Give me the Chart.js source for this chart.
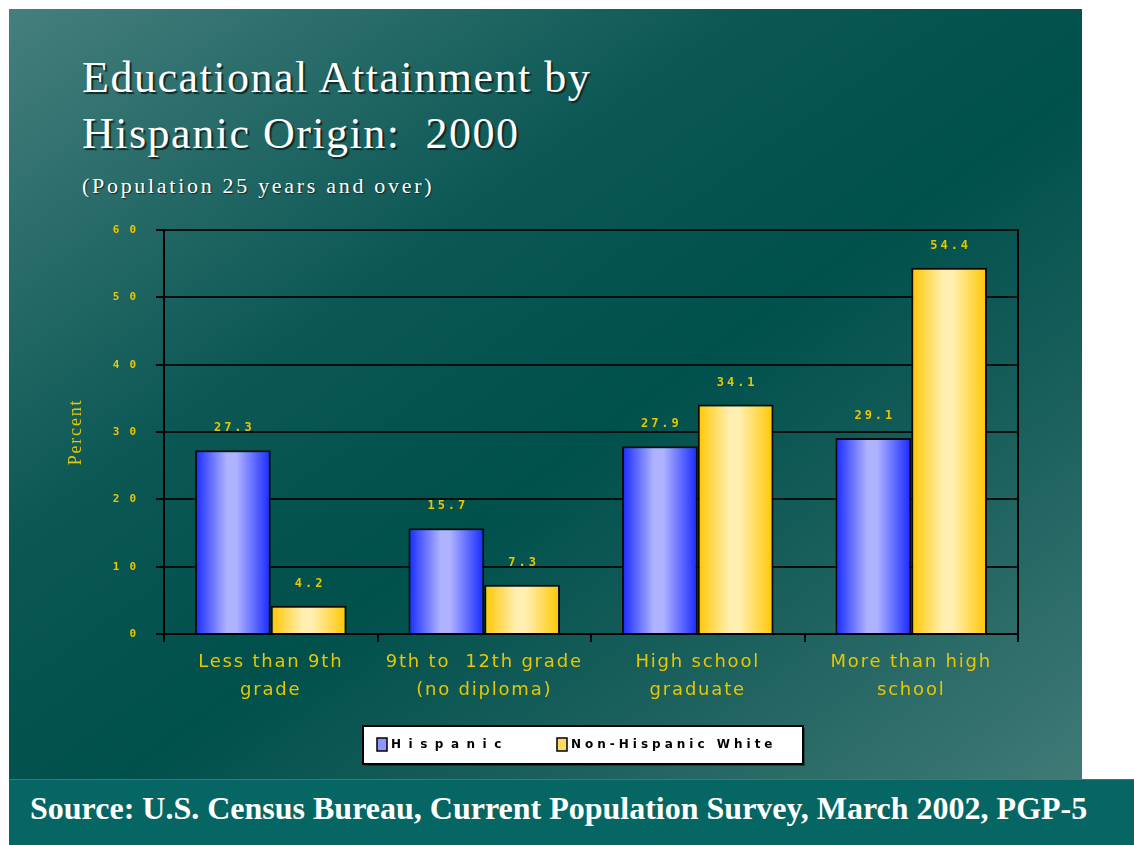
<!DOCTYPE html>
<html lang="en">

<head>
    <meta charset="UTF-8">
    <title>Educational Attainment by Hispanic Origin: 2000</title>
    <script src="https://cdn.jsdelivr.net/npm/chart.js"></script>
    <style>
        html, body { margin: 0; padding: 0; background: #ffffff; }
        body { width: 1134px; height: 845px; position: relative; overflow: hidden; }
        .slide {
            position: absolute; left: 9px; top: 9px; width: 1073px; height: 771px;
            background: linear-gradient(to bottom right, #457f7d 0%, #0b5754 35%, #00504c 55%, #1b605d 75%, #407a77 100%);
        }
        .title {
            position: absolute; left: 82px; top: 50px; margin: 0;
            font-family: "Liberation Serif", serif; font-weight: normal; font-size: 44px;
            line-height: 56px; letter-spacing: 1.5px; color: #ffffff;
            text-shadow: 2px 2px 1px #102a28;
        }
        .subtitle {
            position: absolute; left: 82px; top: 173px;
            font-family: "Liberation Serif", serif; font-size: 22px; letter-spacing: 2.7px;
            color: #ffffff; text-shadow: 1px 1px 1px #102a28;
        }
        .footer {
            position: absolute; left: 9px; top: 779px; width: 1125px; height: 66px;
            background: #066663; border-top: 1px solid #2f807d;
        }
        .footer span {
            position: absolute; left: 21px; top: 10px;
            font-family: "Liberation Serif", serif; font-weight: bold; font-size: 32px;
            color: #ffffff; white-space: nowrap;
        }
        canvas { position: absolute; left: 0; top: 0; }
    </style>
</head>

<body>
    <div class="slide"></div>
    <h1 class="title">Educational Attainment by<br>Hispanic Origin:&nbsp; 2000</h1>
    <div class="subtitle">(Population 25 years and over)</div>
    <div class="footer"><span>Source: U.S. Census Bureau, Current Population Survey, March 2002, PGP-5</span></div>
    <canvas id="barChart" width="1134" height="845"></canvas>

    <script>
        // data
        const categories = [
            ["Less than 9th", "grade"],
            ["9th to  12th grade", "(no diploma)"],
            ["High school", "graduate"],
            ["More than high", "school"]
        ];
        const seriesNames = ["Hispanic", "Non-Hispanic White"];
        const hispanic = [27.3, 15.7, 27.9, 29.1];
        const nonHispanicWhite = [4.2, 7.3, 34.1, 54.4];
        const yTicks = [0, 10, 20, 30, 40, 50, 60];

        const YELLOW = "#e8c600";

        // bar shading: dark edges, light band a bit left of centre
        const shades = [
            { edge: "#1628ff", mid: "#aeb2ff", swatch: "#8f96ff" },
            { edge: "#ffc600", mid: "#ffefb0", swatch: "#ffd966" }
        ];

        // axis text in the original is spaced out
        const axisSpacing = {
            id: "axisSpacing",
            beforeDraw(chart) { chart.ctx.letterSpacing = "1.8px"; },
            beforeDatasetsDraw(chart) { chart.ctx.letterSpacing = "0px"; }
        };

        const barShading = {
            id: "barShading",
            beforeDatasetsDraw(chart) {
                const ctx = chart.ctx;
                chart.data.datasets.forEach((ds, di) => {
                    const s = shades[di];
                    chart.getDatasetMeta(di).data.forEach(el => {
                        const l = el.x - el.width / 2, r = el.x + el.width / 2;
                        const g = ctx.createLinearGradient(l, 0, r, 0);
                        g.addColorStop(0, s.edge);
                        g.addColorStop(0.42, s.mid);
                        g.addColorStop(0.55, s.mid);
                        g.addColorStop(1, s.edge);
                        el.options = Object.assign({}, el.options, { backgroundColor: g });
                    });
                });
            }
        };

        const valueLabels = {
            id: "valueLabels",
            afterDatasetsDraw(chart) {
                const ctx = chart.ctx;
                ctx.save();
                ctx.font = "bold 12px 'DejaVu Sans Mono'";
                ctx.letterSpacing = "3px";
                ctx.fillStyle = YELLOW;
                ctx.textAlign = "center";
                ctx.textBaseline = "middle";
                chart.data.datasets.forEach((ds, di) => {
                    chart.getDatasetMeta(di).data.forEach((el, i) => {
                        ctx.fillText(ds.data[i].toFixed(1), el.x + 1.5, el.y - 22);
                    });
                });
                ctx.restore();
            }
        };

        // boxed legend under the axis labels
        const boxLegend = {
            id: "boxLegend",
            afterDraw(chart) {
                const ctx = chart.ctx;
                const a = chart.chartArea;
                const w = 440, h = 38;
                const x = (a.left + a.right) / 2 - 8 - w / 2;
                const y = a.bottom + 92;
                ctx.save();
                ctx.fillStyle = "rgba(0,0,0,0.35)";
                ctx.fillRect(x + 2, y + 2, w, h);
                ctx.fillStyle = "#ffffff";
                ctx.fillRect(x, y, w, h);
                ctx.strokeStyle = "#000000";
                ctx.lineWidth = 2;
                ctx.strokeRect(x, y, w, h);
                ctx.font = "bold 12px 'DejaVu Sans'";
                ctx.textBaseline = "middle";
                const offsets = [14, 194];
                const spacing = ["7.5px", "4px"];
                chart.data.datasets.forEach((ds, di) => {
                    const sx = x + offsets[di];
                    ctx.fillStyle = shades[di].swatch;
                    ctx.fillRect(sx, y + h / 2 - 7, 10, 13);
                    ctx.lineWidth = 1.5;
                    ctx.strokeRect(sx, y + h / 2 - 7, 10, 13);
                    ctx.fillStyle = "#000000";
                    ctx.letterSpacing = spacing[di];
                    ctx.fillText(ds.label, sx + 14, y + h / 2);
                });
                ctx.restore();
            }
        };

        new Chart(document.getElementById("barChart"), {
            type: "bar",
            data: {
                labels: categories,
                datasets: [
                    { label: seriesNames[0], data: hispanic, backgroundColor: shades[0].edge },
                    { label: seriesNames[1], data: nonHispanicWhite, backgroundColor: shades[1].edge }
                ]
            },
            plugins: [axisSpacing, barShading, valueLabels, boxLegend],
            options: {
                responsive: false,
                animation: false,
                layout: { padding: { left: 40, top: 230, right: 116, bottom: 100 } },
                datasets: {
                    bar: {
                        borderColor: "#0a0a0a",
                        borderWidth: 2,
                        borderSkipped: "bottom",
                        barPercentage: 1,
                        categoryPercentage: 0.71
                    }
                },
                plugins: {
                    legend: { display: false },
                    tooltip: { enabled: false }
                },
                scales: {
                    x: {
                        grid: {
                            offset: true,
                            drawOnChartArea: false,
                            color: "#000000",
                            tickColor: "#000000",
                            tickLength: 8,
                            lineWidth: 2
                        },
                        border: { color: "#000000", width: 2 },
                        ticks: {
                            color: YELLOW,
                            padding: 6,
                            maxRotation: 0,
                            font: { family: "'DejaVu Sans'", size: 18, lineHeight: 1.55 }
                        },
                        afterFit(s) { s.height = 111; }
                    },
                    y: {
                        min: 0,
                        max: 60,
                        afterBuildTicks(s) { s.ticks = yTicks.map(v => ({ value: v })); },
                        grid: {
                            color: "#050f0e",
                            tickColor: "#000000",
                            tickLength: 8,
                            lineWidth: 2
                        },
                        border: { color: "#000000", width: 2 },
                        ticks: {
                            color: YELLOW,
                            padding: 18,
                            font: { family: "'DejaVu Sans Mono'", size: 11, weight: "bold" },
                            callback: v => String(v).split("").join(" ")
                        },
                        title: {
                            display: true,
                            text: "Percent",
                            color: YELLOW,
                            padding: { top: 25, bottom: 0 },
                            font: { family: "'Liberation Serif'", size: 18 }
                        },
                        afterFit(s) { s.width = 124; }
                    },
                    yR: {
                        position: "right",
                        min: 0,
                        max: 60,
                        grid: { display: false },
                        ticks: { display: false },
                        border: { display: true, color: "#000000", width: 2 },
                        afterFit(s) { s.width = 0; }
                    }
                }
            }
        });
    </script>
</body>

</html>
